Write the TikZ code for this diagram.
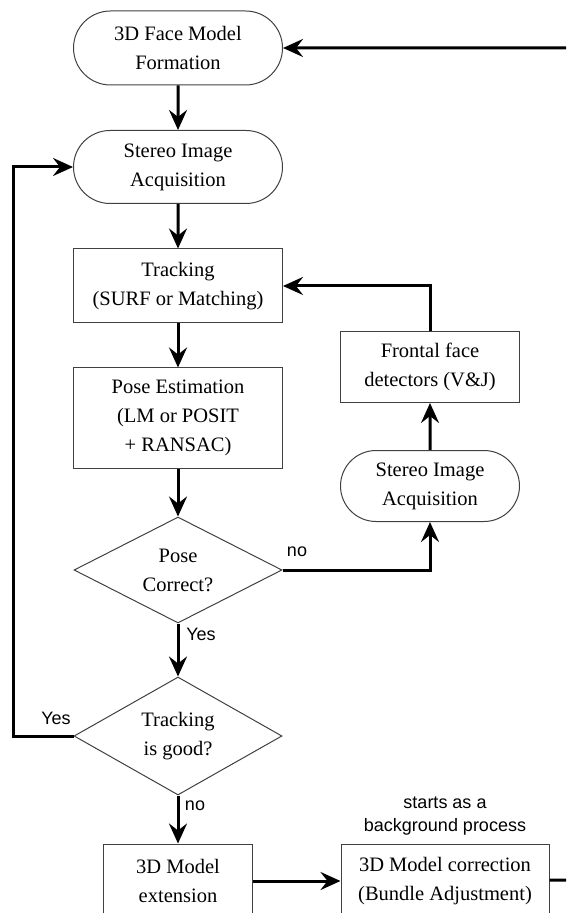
\documentclass[tikz,border=0pt]{standalone}
\usepackage{fontspec}
\setmainfont{Liberation Serif}
\setsansfont{Liberation Sans}
\usetikzlibrary{shapes.geometric,shapes.misc,arrows.meta}
\begin{document}
\begin{tikzpicture}[x=0.5pt,y=-0.5pt,
  every node/.style={font=\fontsize{10.25}{14.5}\selectfont},
  procbox/.style={draw=black!75, line width=0.5pt, align=center, inner sep=0pt},
  termbox/.style={procbox, rounded rectangle},
  decbox/.style={procbox, diamond, aspect=2, minimum width=104pt},
  flow/.style={line width=1.5pt, -{Stealth[length=10pt,width=9pt,inset=3.5pt]}},
  lbl/.style={font=\sffamily\fontsize{9}{11.5}\selectfont, inner sep=0pt, align=center}]
\useasboundingbox (0,0) rectangle (566,913);
\node[termbox, minimum width=104.5pt, minimum height=37pt] (form) at (178,48) {3D Face Model\\Formation};
\node[termbox, minimum width=104.5pt, minimum height=36.5pt] (acq) at (178,167) {Stereo Image\\Acquisition};
\node[procbox, minimum width=104.5pt, minimum height=37pt] (track) at (178,286) {Tracking\\(SURF or Matching)};
\node[procbox, minimum width=104.5pt, minimum height=50pt] (pose) at (178,418) {Pose Estimation\\(LM or POSIT\\+ RANSAC)};
\node[decbox, minimum height=53pt] (check) at (178,570) {Pose\\Correct?};
\node[decbox, minimum height=59pt] (good) at (178,736) {Tracking\\is good?};
\node[procbox, minimum width=74.5pt, minimum height=37pt] (ext) at (178,881) {3D Model\\extension};
\node[procbox, minimum width=104pt, minimum height=37pt] (corr) at (445,881) {3D Model correction\\(Bundle Adjustment)};
\node[procbox, minimum width=89.5pt, minimum height=35.5pt] (front) at (430,367) {Frontal face\\detectors (V\&J)};
\node[termbox, minimum width=89.5pt, minimum height=35.5pt] (acq2) at (430,486) {Stereo Image\\Acquisition};
\node[lbl] (note) at (445,816) {starts as a\\background process};
\node[lbl] (yes1) at (201,634) {Yes};
\node[lbl] (yes2) at (56,718) {Yes};
\node[lbl] (no1) at (297,552) {no};
\node[lbl] (no2) at (195,806) {no};
\coordinate (in) at (566,48);
\coordinate (out) at (566,880);
\draw[flow] (in) -- (form);
\draw[flow] (form) -- (acq);
\draw[flow] (acq) -- (track);
\draw[flow] (track) -- (pose);
\draw[flow] (pose) -- (check);
\draw[flow] (check) -- (good);
\draw[flow] (good) -- (ext);
\draw[flow] (good.west) -- ++(-60,0) |- (acq.west);
\draw[flow] (check.east) -| (acq2.south);
\draw[flow] (acq2) -- (front);
\draw[flow] (front.north) |- (track.east);
\draw[flow] (ext) -- (corr);
\draw[line width=1.5pt] (corr) -- (out);
\end{tikzpicture}
\end{document}
